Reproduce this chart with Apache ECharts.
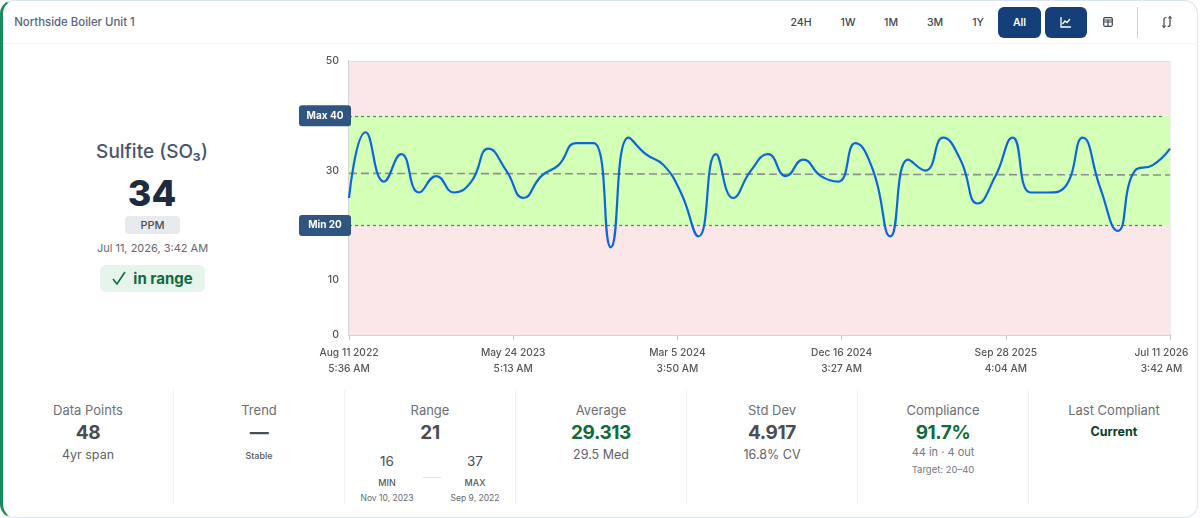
<!DOCTYPE html>
<html>
<head>
<meta charset="utf-8">
<title>Northside Boiler Unit 1</title>
<script src="https://cdn.jsdelivr.net/npm/echarts@6/dist/echarts.min.js"></script>
<style>
  html, body { margin: 0; padding: 0; background: #fff; }
  body { width: 1200px; height: 518px; overflow: hidden; position: relative;
         font-family: Inter, "Noto Sans", sans-serif; color: #555; }
  #card { position: absolute; left: 0; top: 0; width: 1198px; height: 518px; box-sizing: border-box;
          border: 1px solid #dde4f1; border-left: 3px solid #17895a; border-radius: 14px; }
  #head { position: absolute; left: 3px; right: 2px; top: 43px; height: 1px; background: #f3f5f8; }
  #chart { position: absolute; left: 280px; top: 48px; width: 920px; height: 340px; }
  .t { position: absolute; transform: translate(-50%, -50%); white-space: nowrap; }
  .box { position: absolute; box-sizing: border-box; }
  .tab { font-size: 10.5px; font-weight: 500; color: #3f4650; }
  .div { position: absolute; top: 390px; width: 1px; height: 115px; background: #f1f2f4; }
  .lab { font-size: 13px; font-weight: 400; color: #6b6f75; }
  .big { font-size: 19px; font-weight: 700; color: #4a4d52; letter-spacing: -0.4px; }
  .sub { font-size: 12.5px; color: #5e6269; }
  .green { color: #0f6b3c; }
  svg { position: absolute; }
</style>
</head>
<body>
<div id="card"></div>
<div id="head"></div>
<div id="chart"></div>
<div id="ui"></div>
<script>
// Sulfite readings, one per sampling round, placed by days since the first sample
const sampleDays = [0, 29, 61, 91, 122, 152, 183, 213, 243, 274, 304, 335, 365, 396, 426, 456,
  487, 517, 548, 578, 609, 639, 669, 700, 730, 761, 791, 822, 852, 882, 913, 943,
  974, 1004, 1035, 1065, 1095, 1126, 1156, 1187, 1217, 1247, 1278, 1308, 1339, 1369, 1400, 1430];
const sulfitePpm = [25, 37, 28, 33, 26, 29, 26, 28, 34, 30, 25, 29, 31, 35, 35, 16,
  36, 33, 31, 26, 18, 33, 25, 30, 33, 29, 32, 29, 28, 35, 30, 18,
  32, 30, 36, 32, 24, 29, 36, 26, 26, 27, 36, 27, 19, 30, 31, 34];
const trendPpm = [29.5, 29.2];
const trendDays = [0, 1430];
const limitMin = 20;
const limitMax = 40;
const axisMax = 50;
const dateTicks = ["Aug 11 2022", "May 24 2023", "Mar 5 2024", "Dec 16 2024", "Sep 28 2025", "Jul 11 2026"];
const timeTicks = ["5:36 AM", "5:13 AM", "3:50 AM", "3:27 AM", "4:04 AM", "3:42 AM"];
const tickStepDays = 286;
const limitLabels = ["Max 40", "Min 20"];

const chart = echarts.init(document.getElementById('chart'), null, { renderer: 'canvas' });
const fontFamily = 'Inter, "Noto Sans", sans-serif';
const limitLine = { type: [3, 3], color: '#6f7378', width: 1.2 };
const badge = text => ({
  show: true, position: 'start', distance: 0, align: 'right', offset: [2, 0],
  formatter: `{b|${text}}`,
  rich: {
    b: {
      color: '#fff', fontFamily, fontSize: 10, fontWeight: 700, align: 'center',
      backgroundColor: '#2f5580', borderRadius: 3, width: 52, height: 21, lineHeight: 21
    }
  }
});

chart.setOption({
  animation: false,
  grid: { left: 69, right: 30, top: 13, bottom: 53, outerBoundsMode: 'none' },
  xAxis: {
    type: 'value', min: 0, max: 1430, interval: tickStepDays,
    axisLine: { show: true, lineStyle: { color: '#d5d5d8', width: 2 } },
    axisTick: { show: true, length: 5, lineStyle: { color: '#c9c9cc' } },
    splitLine: { show: true, lineStyle: { color: 'rgba(150,150,150,0.2)', width: 1.5 } },
    axisLabel: {
      color: '#555', fontFamily, fontSize: 10.2, fontWeight: 500, lineHeight: 16, margin: 10,
      showMinLabel: true, showMaxLabel: true, hideOverlap: false,
      formatter: value => {
        const i = Math.round(value / tickStepDays);
        const style = i === 5 ? 'last' : 'tick';
        return `{${style}|${dateTicks[i]}}\n{${style}|${timeTicks[i]}}`;
      },
      rich: {
        tick: { lineHeight: 16, fontSize: 10.2, fontWeight: 500, color: '#555', fontFamily },
        last: { lineHeight: 16, fontSize: 10.2, fontWeight: 500, color: '#555', fontFamily, padding: [0, 17, 0, 0] }
      }
    }
  },
  yAxis: {
    type: 'value', min: 0, max: axisMax, interval: 10,
    axisLine: { show: true, lineStyle: { color: '#d5d5d8', width: 2 } },
    axisTick: { show: false },
    splitLine: { show: false },
    axisLabel: { color: '#555', fontFamily, fontSize: 10.5, fontWeight: 500, margin: 10, padding: [3, 0, 0, 0] }
  },
  series: [
    {
      type: 'line', name: 'Sulfite', z: 5, smooth: 0.5, showSymbol: false, clip: false,
      data: sampleDays.map((d, i) => [d, sulfitePpm[i]]),
      lineStyle: { color: '#0b67d8', width: 2.2 },
      markArea: {
        silent: true, z: 1,
        data: [
          [{ yAxis: limitMax, itemStyle: { color: '#fbe6e8' } }, { yAxis: axisMax }],
          [{ yAxis: limitMin, itemStyle: { color: '#d3ffb6' } }, { yAxis: limitMax }],
          [{ yAxis: 0, itemStyle: { color: '#fbe6e8' } }, { yAxis: limitMin }]
        ]
      },
      markLine: {
        silent: true, symbol: 'none', z: 3, precision: 2,
        data: [
          [{ coord: [0, limitMax], lineStyle: limitLine, label: badge(limitLabels[0]) }, { coord: [1418, limitMax] }],
          [{ coord: [0, limitMin], lineStyle: limitLine, label: badge(limitLabels[1]) }, { coord: [1418, limitMin] }],
          [{ coord: [0, axisMax], lineStyle: { type: 'solid', color: '#e8e0e0', width: 1 }, label: { show: false } }, { coord: [1430, axisMax] }]
        ]
      }
    },
    {
      type: 'line', name: 'Trend', z: 4, showSymbol: false, silent: true,
      data: trendDays.map((d, i) => [d, trendPpm[i]]),
      lineStyle: { color: '#8b8f8f', width: 1.6, type: [8, 4] }
    }
  ]
});

// Surrounding page furniture: toolbar, latest-reading panel and summary statistics
const tabs = [["24H", 801], ["1W", 848], ["1M", 891], ["3M", 935], ["1Y", 978]];
const stats = [
  { x: 88, label: "Data Points", value: "48", sub: "4yr span" },
  { x: 259, label: "Trend", value: "—", small: "Stable" },
  { x: 430, label: "Range", value: "21" },
  { x: 601, label: "Average", value: "29.313", sub: "29.5 Med", green: true },
  { x: 772, label: "Std Dev", value: "4.917", sub: "16.8% CV" },
  { x: 943, label: "Compliance", value: "91.7%", green: true }
];
let html = '';
const text = (x, y, s, cls = '', style = '') =>
  `<div class="t ${cls}" style="left:${x}px;top:${y}px;${style}">${s}</div>`;
const box = (x, y, w, h, style) =>
  `<div class="box" style="left:${x}px;top:${y}px;width:${w}px;height:${h}px;${style}"></div>`;

html += text(74.5, 22, 'Northside Boiler Unit 1', '', 'font-size:11.4px;font-weight:500;color:#56657c');
tabs.forEach(([s, x]) => { html += text(x, 22, s, 'tab'); });
html += box(998, 7, 43, 31, 'background:#143f79;border-radius:6px');
html += box(1045, 7, 42, 31, 'background:#143f79;border-radius:6px');
html += text(1019.5, 22, 'All', '', 'font-size:10.5px;font-weight:600;color:#fff');
html += `<svg style="left:1060px;top:16px" width="12" height="12" viewBox="0 0 12 12" fill="none" stroke="#fff" stroke-width="1.3"><path d="M1 1v10h10"/><path d="M2.5 8l2.5-3 2 1.5 3-3.5"/></svg>`;
html += `<svg style="left:1103px;top:17px" width="10" height="10" viewBox="0 0 10 10" fill="none" stroke="#3f4650" stroke-width="1.2"><rect x=".7" y=".7" width="8.6" height="8.6" rx="1.2"/><path d="M.7 5h8.6M5 3v6.3M.7 3h8.6"/></svg>`;
html += box(1137, 7, 1, 31, 'background:#cfd2d6');
html += `<svg style="left:1161px;top:15px" width="12" height="14" viewBox="0 0 12 14" fill="none" stroke="#3f4650" stroke-width="1.2"><path d="M3 12V4.5C3 3 4 2.5 5.5 2.5M9 2v7.5C9 11 8 11.5 6.5 11.5"/><path d="M1.5 10.5L3 12.5l1.5-2M7.5 3.5L9 1.5l1.5 2"/></svg>`;

html += text(152, 151, 'Sulfite (SO₃)', '', 'font-size:19px;font-weight:500;color:#47566e');
html += text(152, 193, '34', '', 'font-size:36px;font-weight:800;color:#1e2a3e');
html += box(125, 216, 55, 18, 'background:#e8eaee;border-radius:4px');
html += text(152.5, 225, 'PPM', '', 'font-size:11px;font-weight:500;color:#4a4f57');
html += text(152.5, 248, 'Jul 11, 2026, 3:42 AM', '', 'font-size:11px;color:#66696f');
html += box(100, 265, 105, 27, 'background:#e6f4ec;border-radius:6px');
html += `<svg style="left:111px;top:270px" width="16" height="16" viewBox="0 0 16 16" fill="none" stroke="#0f6b3c" stroke-width="1.6"><path d="M2 9l4 5L14 2"/></svg>`;
html += text(163, 278, 'in range', 'green', 'font-size:15px;font-weight:700');

[173, 344, 515, 686, 857, 1028].forEach(x => { html += `<div class="div" style="left:${x}px"></div>`; });
stats.forEach(s => {
  html += text(s.x, 410, s.label, 'lab');
  html += text(s.x, 432, s.value, 'big' + (s.green ? ' green' : ''));
  if (s.sub) html += text(s.x, 454, s.sub, 'sub');
  if (s.small) html += text(s.x, 455, s.small, '', 'font-size:9px;font-weight:500;color:#55585e');
});
html += text(387, 461, '16', '', 'font-size:13.5px;color:#4a4d52');
html += text(475, 461, '37', '', 'font-size:13.5px;color:#4a4d52');
html += box(423, 477, 18, 1, 'background:#e3e4e6');
html += text(387, 482, 'MIN', '', 'font-size:9px;font-weight:500;color:#55585e');
html += text(475, 482, 'MAX', '', 'font-size:9px;font-weight:500;color:#55585e');
html += text(387, 498, 'Nov 10, 2023', '', 'font-size:8.5px;color:#66696f');
html += text(475, 498, 'Sep 9, 2022', '', 'font-size:8.5px;color:#66696f');
html += text(943, 452, '44 in · 4 out', '', 'font-size:11px;color:#77797e');
html += text(943, 469, 'Target: 20–40', '', 'font-size:9.5px;color:#77797e');
html += text(1114, 410, 'Last Compliant', 'lab');
html += text(1114, 431, 'Current', '', 'font-size:12.5px;font-weight:700;color:#0c3f26');
document.getElementById('ui').innerHTML = html;
</script>
</body>
</html>
